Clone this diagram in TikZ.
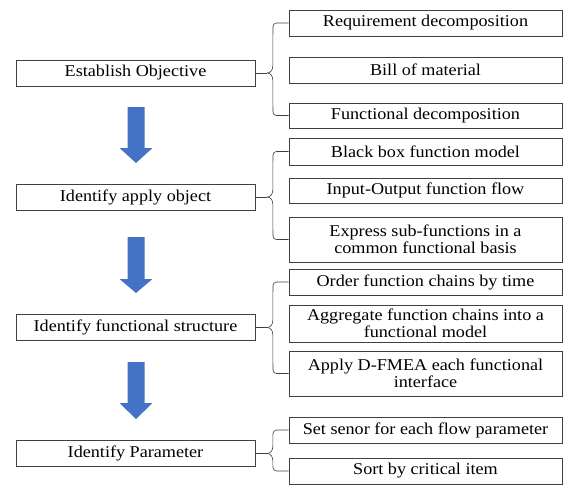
\documentclass[tikz,border=0pt]{standalone}
\usepackage{fontspec}
\setmainfont{Liberation Serif}[FakeStretch=1.1]
\begin{document}
\begin{tikzpicture}[x=1pt,y=-1pt,
  box/.style={draw=black!75,line width=0.6pt,fill=white,inner sep=0pt,align=center,
    font=\fontsize{16.5}{17.5}\selectfont},
  lbox/.style={box,minimum width=239pt,minimum height=26pt},
  rbox/.style={box,minimum width=273pt},
  bline/.style={draw=black!75,line width=0.6pt},
  barrow/.style={fill={rgb,255:red,68;green,114;blue,196}}]
\useasboundingbox (0,0) rectangle (563,485);
% left boxes
\node[lbox] (L1) at (135.5,73) {Establish Objective};
\node[lbox] (L2) at (135.5,197) {Identify apply object};
\node[lbox] (L3) at (135.5,327.5) {Identify functional structure};
\node[lbox] (L4) at (135.5,453.5) {Identify Parameter};
% right boxes
\node[rbox,minimum height=26pt] (R1) at (425.5,23) {Requirement decomposition};
\node[rbox,minimum height=26pt] (R2) at (425.5,70) {Bill of material};
\node[rbox,minimum height=25pt] (R3) at (425.5,115.5) {Functional decomposition};
\node[rbox,minimum height=27pt] (R4) at (425.5,151.5) {Black box function model};
\node[rbox,minimum height=25pt] (R5) at (425.5,190.5) {Input-Output function flow};
\node[rbox,minimum height=45pt] (R6) at (425.5,239.5) {Express sub-functions in a\\common functional basis};
\node[rbox,minimum height=26pt] (R7) at (425.5,282) {Order function chains by time};
\node[rbox,minimum height=37pt] (R8) at (425.5,323.5) {Aggregate function chains into a\\functional model};
\node[rbox,minimum height=45pt] (R9) at (425.5,373.5) {Apply D-FMEA each functional\\interface};
\node[rbox,minimum height=26pt] (R10) at (425.5,430) {Set senor for each flow parameter};
\node[rbox,minimum height=26pt] (R11) at (425.5,471) {Sort by critical item};
% brackets
\foreach \L/\T/\B in {L1/R1/R3, L2/R4/R6, L3/R7/R9, L4/R10/R11}{
  \coordinate (tip) at ([xshift=12pt]\L.east);
  \draw[bline] (tip) to[out=0,in=270] ([xshift=5.5pt,yshift=7pt]tip)
     [rounded corners=3.5pt] -- (\T.west -| 273,0) -- (\T.west);
  \draw[bline] (tip) to[out=0,in=90] ([xshift=5.5pt,yshift=-7pt]tip)
     [rounded corners=3.5pt] -- (\B.west -| 273,0) -- (\B.west);
  \draw[bline] (\L.east) -- (tip);
}
% block arrows
\foreach \t/\h/\e in {107/148/163, 237/279/293, 362/403/419}{
  \fill[barrow] (127.5,\t) -- (144.5,\t) -- (144.5,\h) -- (152.5,\h) -- (136,\e)
     -- (119.5,\h) -- (127.5,\h) -- cycle;
}
\end{tikzpicture}
\end{document}
